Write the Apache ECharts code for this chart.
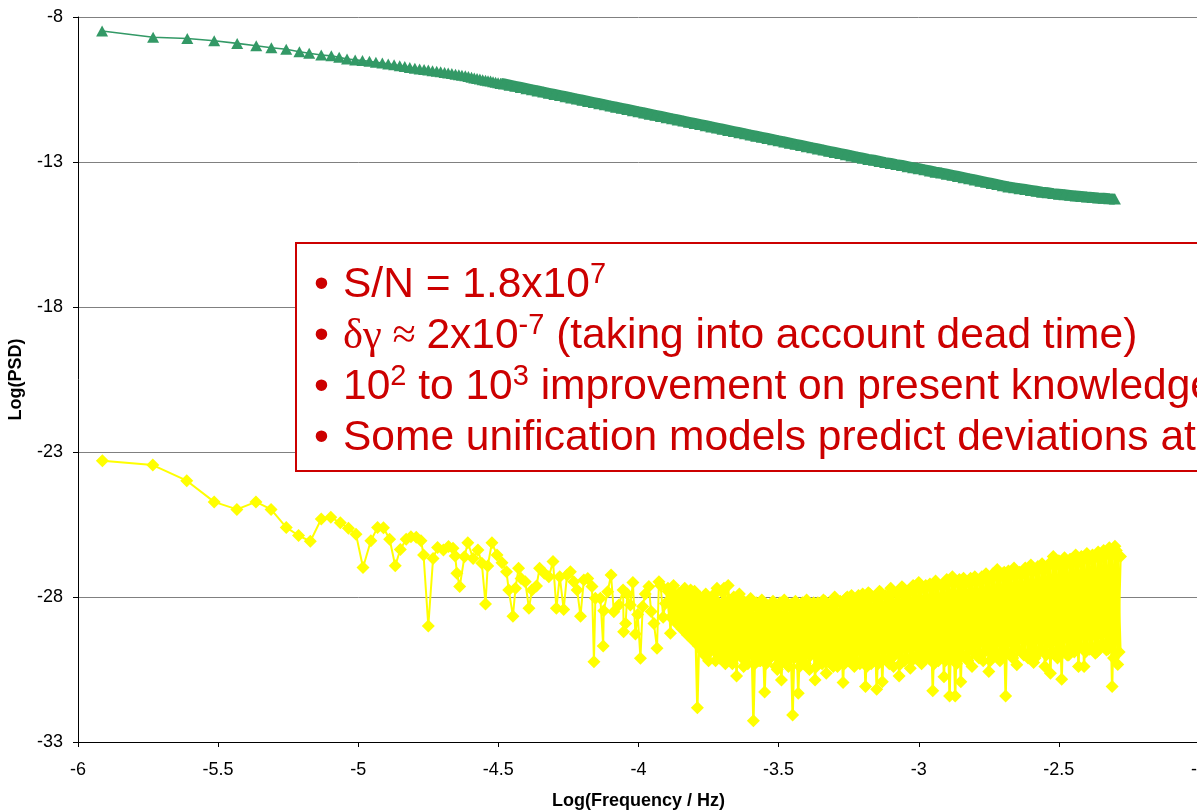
<!DOCTYPE html>
<html>
<head>
<meta charset="utf-8">
<script src="https://cdn.jsdelivr.net/npm/echarts@6/dist/echarts.min.js"></script>
<style>
  html, body { margin: 0; padding: 0; overflow: hidden; background: #fff; }
  #chart { width: 1200px; height: 812px; }
</style>
</head>
<body>
<div id="chart"></div>
<script>
// axis ranges
const xRange = [-6, -2, 0.5];
const yRange = [-33, -8, 5];

// green curve (log PSD of signal), [log f, log psd]; low frequencies, separate points
const greenSparse = [
  [-5.914,-8.48],[-5.732,-8.70],[-5.610,-8.74],[-5.514,-8.82],[-5.432,-8.91],[-5.364,-8.99],[-5.310,-9.06],
  [-5.257,-9.11],[-5.210,-9.20],[-5.175,-9.25],[-5.132,-9.31],[-5.096,-9.34],[-5.068,-9.39],[-5.040,-9.45],
  [-5.011,-9.48],[-4.985,-9.50],[-4.960,-9.53],[-4.937,-9.56],[-4.914,-9.59],[-4.893,-9.62],[-4.872,-9.65],
  [-4.852,-9.68],[-4.834,-9.71],[-4.816,-9.74],[-4.798,-9.77],[-4.781,-9.79],[-4.765,-9.81],[-4.750,-9.83],
  [-4.735,-9.85],[-4.720,-9.87],[-4.706,-9.89],[-4.692,-9.91],[-4.679,-9.93],[-4.666,-9.95],[-4.653,-9.97],
  [-4.641,-9.99],[-4.630,-10.01],[-4.618,-10.03],[-4.607,-10.05],[-4.596,-10.08],[-4.586,-10.10],
  [-4.576,-10.12],[-4.566,-10.14],[-4.556,-10.16],[-4.546,-10.18],[-4.537,-10.20],[-4.528,-10.21],
  [-4.519,-10.23],[-4.510,-10.25],[-4.501,-10.27],[-4.492,-10.29]
];

// green curve, higher frequencies where the points merge into a band
const greenDense = [
  [-4.48,-10.31],
  [-4.46,-10.35],[-4.44,-10.39],[-4.42,-10.43],[-4.40,-10.47],[-4.38,-10.51],[-4.36,-10.55],[-4.34,-10.59],
  [-4.32,-10.63],[-4.30,-10.67],[-4.28,-10.71],[-4.26,-10.75],[-4.24,-10.79],[-4.22,-10.83],[-4.20,-10.87],
  [-4.18,-10.91],[-4.16,-10.95],[-4.14,-10.99],[-4.12,-11.03],[-4.10,-11.07],[-4.08,-11.11],[-4.06,-11.15],
  [-4.04,-11.19],[-4.02,-11.23],[-4.00,-11.27],[-3.98,-11.31],[-3.96,-11.35],[-3.94,-11.39],[-3.92,-11.43],
  [-3.90,-11.47],[-3.88,-11.51],[-3.86,-11.55],[-3.84,-11.59],[-3.82,-11.63],[-3.80,-11.67],[-3.78,-11.71],
  [-3.76,-11.75],[-3.74,-11.79],[-3.72,-11.83],[-3.70,-11.87],[-3.68,-11.91],[-3.66,-11.95],[-3.64,-11.99],
  [-3.62,-12.03],[-3.60,-12.07],[-3.58,-12.11],[-3.56,-12.15],[-3.54,-12.19],[-3.52,-12.23],[-3.50,-12.27],
  [-3.48,-12.31],[-3.46,-12.35],[-3.44,-12.39],[-3.42,-12.43],[-3.40,-12.47],[-3.38,-12.51],[-3.36,-12.55],
  [-3.34,-12.59],[-3.32,-12.63],[-3.30,-12.67],[-3.28,-12.71],[-3.26,-12.75],[-3.24,-12.79],[-3.22,-12.83],
  [-3.20,-12.87],[-3.18,-12.91],[-3.16,-12.94],[-3.14,-12.98],[-3.12,-13.02],[-3.10,-13.05],[-3.08,-13.09],
  [-3.06,-13.12],[-3.04,-13.16],[-3.02,-13.20],[-3.00,-13.23],[-2.98,-13.27],[-2.96,-13.31],[-2.94,-13.35],
  [-2.92,-13.38],[-2.90,-13.42],[-2.88,-13.46],[-2.86,-13.50],[-2.84,-13.54],[-2.82,-13.58],[-2.80,-13.62],
  [-2.78,-13.66],[-2.76,-13.70],[-2.74,-13.74],[-2.72,-13.78],[-2.70,-13.82],[-2.68,-13.86],[-2.66,-13.89],
  [-2.64,-13.92],[-2.62,-13.95],[-2.60,-13.98],[-2.58,-14.01],[-2.56,-14.04],[-2.54,-14.06],[-2.52,-14.09],
  [-2.50,-14.11],[-2.48,-14.13],[-2.46,-14.15],[-2.44,-14.17],[-2.42,-14.19],[-2.40,-14.21],[-2.38,-14.22],
  [-2.36,-14.24],[-2.34,-14.25],[-2.32,-14.27],[-2.30,-14.28]
];

// yellow curve (noise), low frequency part, individual points
const yellowSparse = [
  [-5.913,-23.30],[-5.733,-23.45],[-5.612,-23.99],[-5.514,-24.72],[-5.433,-24.98],[-5.365,-24.72],
  [-5.311,-24.98],[-5.257,-25.60],[-5.213,-25.88],[-5.171,-26.08],[-5.132,-25.31],[-5.098,-25.25],
  [-5.064,-25.44],[-5.035,-25.63],[-5.008,-25.84],[-4.983,-26.98],[-4.955,-26.06],[-4.931,-25.60],
  [-4.910,-25.61],[-4.888,-26.01],[-4.868,-26.92],[-4.850,-26.36],[-4.829,-26.01],[-4.812,-25.92],
  [-4.793,-25.94],[-4.776,-26.06],[-4.767,-26.55],[-4.750,-29.00],[-4.733,-26.67],[-4.717,-26.29],
  [-4.696,-26.38],[-4.678,-26.26],[-4.662,-26.32],[-4.654,-26.59],[-4.648,-27.18],[-4.638,-27.64],
  [-4.621,-26.61],[-4.609,-26.13],[-4.590,-26.67],[-4.573,-26.38],[-4.559,-26.84],[-4.546,-28.24],
  [-4.538,-26.93],[-4.523,-26.13],[-4.505,-26.55],[-4.487,-26.82],[-4.471,-27.13],[-4.463,-27.76],
  [-4.448,-28.66],[-4.439,-27.70],[-4.428,-27.01],[-4.419,-27.36],[-4.404,-27.47],[-4.391,-28.39],
  [-4.380,-27.76],[-4.364,-27.62],[-4.353,-27.01],[-4.336,-27.18],[-4.320,-27.30],[-4.305,-26.78],
  [-4.293,-28.39],[-4.281,-27.30],[-4.267,-28.43],[-4.255,-27.24],[-4.243,-27.13],[-4.231,-27.47],
  [-4.219,-27.76],[-4.207,-28.66],[-4.195,-27.41],[-4.181,-27.36],[-4.166,-27.64],[-4.159,-30.23],
  [-4.154,-28.04],[-4.136,-28.04],[-4.126,-29.69],[-4.124,-28.47],[-4.110,-27.82],[-4.098,-27.24],
  [-4.088,-28.51],[-4.070,-28.28],[-4.055,-27.76],[-4.053,-29.20],[-4.046,-28.91],[-4.040,-27.90],
  [-4.029,-28.28],[-4.020,-27.50],[-4.011,-29.28],[-4.003,-28.60],[-3.993,-30.11],[-3.985,-28.33],
  [-3.976,-27.90],[-3.963,-27.64],[-3.955,-28.50],[-3.945,-28.91],[-3.934,-29.77],[-3.927,-27.47],
  [-3.921,-27.60],[-3.912,-28.70],[-3.904,-28.22],[-3.895,-27.70],[-3.886,-29.25],[-3.878,-27.90],
  [-3.870,-28.40],[-3.863,-28.90],[-3.856,-27.87],[-3.847,-28.10],[-3.838,-28.73],[-3.831,-27.90],
  [-3.825,-29.30],[-3.819,-28.50],[-3.814,-27.76],[-3.805,-29.08]
];

// yellow curve, high frequency part where the points crowd into a band (with the deep dips)
const yellowDense = [
  [-3.80,-27.80],[-3.79,-31.82],[-3.78,-28.00],[-3.77,-29.90],[-3.76,-27.90],[-3.75,-30.20],[-3.74,-28.10],[-3.73,-29.80],[-3.72,-27.70],[-3.71,-30.10],
  [-3.70,-27.85],[-3.69,-30.30],[-3.68,-27.60],[-3.67,-30.00],[-3.66,-28.00],[-3.65,-30.72],[-3.64,-27.90],[-3.63,-30.10],[-3.62,-28.20],[-3.61,-30.30],
  [-3.60,-28.05],[-3.59,-32.27],[-3.58,-28.20],[-3.57,-30.20],[-3.56,-28.10],[-3.55,-31.28],[-3.54,-28.30],[-3.53,-30.10],[-3.52,-28.15],[-3.51,-30.40],
  [-3.50,-28.25],[-3.49,-30.86],[-3.48,-28.10],[-3.47,-30.20],[-3.46,-28.30],[-3.45,-32.07],[-3.44,-28.15],[-3.43,-31.32],[-3.42,-28.25],[-3.41,-30.30],
  [-3.40,-28.10],[-3.39,-30.50],[-3.38,-28.30],[-3.37,-30.86],[-3.36,-28.20],[-3.35,-30.20],[-3.34,-28.10],[-3.33,-30.63],[-3.32,-28.25],[-3.31,-30.30],
  [-3.30,-28.00],[-3.29,-30.40],[-3.28,-28.15],[-3.27,-30.95],[-3.26,-28.05],[-3.25,-30.20],[-3.24,-27.95],[-3.23,-30.40],[-3.22,-28.10],[-3.21,-30.30],
  [-3.20,-27.90],[-3.19,-31.09],[-3.18,-27.85],[-3.17,-30.30],[-3.16,-28.00],[-3.15,-31.18],[-3.14,-27.80],[-3.13,-30.92],[-3.12,-27.95],[-3.11,-30.20],
  [-3.10,-27.70],[-3.09,-30.40],[-3.08,-27.85],[-3.07,-30.72],[-3.06,-27.65],[-3.05,-30.20],[-3.04,-27.80],[-3.03,-30.46],[-3.02,-27.60],[-3.01,-30.10],
  [-3.00,-27.50],[-2.99,-30.30],[-2.98,-27.70],[-2.97,-30.00],[-2.96,-27.55],[-2.95,-31.23],[-2.94,-27.45],[-2.93,-30.20],[-2.92,-27.60],[-2.91,-30.75],
  [-2.90,-27.40],[-2.89,-31.41],[-2.88,-27.30],[-2.87,-31.41],[-2.86,-27.50],[-2.85,-30.92],[-2.84,-27.35],[-2.83,-30.10],[-2.82,-27.45],[-2.81,-30.40],
  [-2.80,-27.30],[-2.79,-30.00],[-2.78,-27.40],[-2.77,-30.20],[-2.76,-27.20],[-2.75,-30.57],[-2.74,-27.30],[-2.73,-30.00],[-2.72,-27.05],[-2.71,-30.20],
  [-2.70,-27.20],[-2.69,-31.41],[-2.68,-27.10],[-2.67,-30.00],[-2.66,-27.00],[-2.65,-30.34],[-2.64,-27.15],[-2.63,-29.90],[-2.62,-27.00],[-2.61,-30.10],
  [-2.60,-26.90],[-2.59,-30.26],[-2.58,-27.05],[-2.57,-29.90],[-2.56,-26.85],[-2.55,-30.40],[-2.54,-26.95],[-2.53,-30.63],[-2.52,-26.60],[-2.51,-29.90],
  [-2.50,-26.75],[-2.49,-30.84],[-2.48,-26.65],[-2.47,-30.00],[-2.46,-26.70],[-2.45,-29.80],[-2.44,-26.55],[-2.43,-30.40],[-2.42,-26.60],[-2.41,-30.40],
  [-2.40,-26.50],[-2.39,-29.80],[-2.38,-26.55],[-2.37,-29.94],[-2.36,-26.45],[-2.35,-29.70],[-2.34,-26.40],[-2.33,-29.83],[-2.32,-26.30],[-2.31,-31.09],
  [-2.30,-26.25],[-2.29,-30.33],[-2.28,-26.60]
];

// the interleaved points of the same band (half a step further), all inside the band
const yellowDenseB = [
  [-3.895,-27.80],[-3.885,-28.70],[-3.875,-27.60],[-3.865,-28.90],[-3.855,-27.90],[-3.845,-29.10],[-3.835,-27.70],[-3.825,-29.30],
  [-3.815,-28.00],[-3.805,-29.50],
  [-3.795,-28.20],[-3.785,-29.70],[-3.775,-28.10],[-3.765,-30.00],[-3.755,-28.30],[-3.745,-29.90],[-3.735,-27.95],[-3.725,-30.20],
  [-3.715,-28.20],[-3.705,-29.90],[-3.695,-27.70],[-3.685,-30.10],[-3.675,-28.10],[-3.665,-30.30],[-3.655,-28.25],[-3.645,-29.95],
  [-3.635,-28.05],[-3.625,-30.40],[-3.615,-28.35],[-3.605,-30.00],[-3.595,-28.25],[-3.585,-30.30],[-3.575,-28.40],[-3.565,-30.20],
  [-3.555,-28.20],[-3.545,-30.30],[-3.535,-28.40],[-3.525,-30.00],[-3.515,-28.30],[-3.505,-30.50],[-3.495,-28.20],[-3.485,-30.20],
  [-3.475,-28.35],[-3.465,-30.40],[-3.455,-28.25],[-3.445,-30.10],[-3.435,-28.40],[-3.425,-30.40],[-3.415,-28.20],[-3.405,-30.30],
  [-3.395,-28.35],[-3.385,-30.00],[-3.375,-28.20],[-3.365,-30.40],[-3.355,-28.35],[-3.345,-30.30],[-3.335,-28.15],[-3.325,-30.10],
  [-3.315,-28.30],[-3.305,-30.40],[-3.295,-28.10],[-3.285,-30.20],[-3.275,-28.25],[-3.265,-30.30],[-3.255,-28.00],[-3.245,-30.10],
  [-3.235,-28.20],[-3.225,-30.30],[-3.215,-27.95],[-3.205,-30.20],[-3.195,-28.10],[-3.185,-30.40],[-3.175,-27.90],[-3.165,-30.10],
  [-3.155,-28.05],[-3.145,-30.30],[-3.135,-27.85],[-3.125,-30.10],[-3.115,-28.00],[-3.105,-30.30],[-3.095,-27.80],[-3.085,-30.00],
  [-3.075,-27.90],[-3.065,-30.30],[-3.055,-27.70],[-3.045,-30.10],[-3.035,-27.85],[-3.025,-30.20],[-3.015,-27.65],[-3.005,-30.00],
  [-2.995,-27.75],[-2.985,-30.20],[-2.975,-27.60],[-2.965,-30.10],[-2.955,-27.70],[-2.945,-30.30],[-2.935,-27.55],[-2.925,-30.00],
  [-2.915,-27.65],[-2.905,-30.20],[-2.895,-27.45],[-2.885,-30.10],[-2.875,-27.55],[-2.865,-30.30],[-2.855,-27.40],[-2.845,-30.00],
  [-2.835,-27.55],[-2.825,-30.20],[-2.815,-27.35],[-2.805,-29.90],[-2.795,-27.50],[-2.785,-30.10],[-2.775,-27.30],[-2.765,-29.90],
  [-2.755,-27.45],[-2.745,-30.20],[-2.735,-27.20],[-2.725,-29.90],[-2.715,-27.35],[-2.705,-30.10],[-2.695,-27.15],[-2.685,-29.90],
  [-2.675,-27.30],[-2.665,-30.10],[-2.655,-27.10],[-2.645,-29.80],[-2.635,-27.25],[-2.625,-30.00],[-2.615,-27.05],[-2.605,-29.90],
  [-2.595,-27.15],[-2.585,-30.10],[-2.575,-26.95],[-2.565,-29.80],[-2.555,-27.10],[-2.545,-30.00],[-2.535,-26.85],[-2.525,-29.90],
  [-2.515,-26.95],[-2.505,-30.10],[-2.495,-26.80],[-2.485,-29.80],[-2.475,-26.90],[-2.465,-30.00],[-2.455,-26.70],[-2.445,-29.90],
  [-2.435,-26.85],[-2.425,-29.70],[-2.415,-26.65],[-2.405,-29.90],[-2.395,-26.75],[-2.385,-29.70],[-2.375,-26.60],[-2.365,-29.90],
  [-2.355,-26.70],[-2.345,-29.60],[-2.335,-26.50],[-2.325,-29.80],[-2.315,-26.60],[-2.305,-30.10],[-2.295,-26.40],[-2.285,-29.90]
];

// note box lines (rich text tokens)
const noteLines = [
  '{b|•}{n|S/N = 1.8x10}{s|7}',
  '{b|•}{g|δγ ≈ }{n|2x10}{s|-7}{n| (taking into account dead time)}',
  '{b|•}{n|10}{s|2}{n| to 10}{s|3}{n| improvement on present knowledge}',
  '{b|•}{n|Some unification models predict deviations at}'
];

const red = '#CC0000';
const green = '#339966';
const yellow = '#FFFF00';
const font = 'Liberation Sans, Arial, sans-serif';

const chart = echarts.init(document.getElementById('chart'));

const axisText = { color: '#000', fontFamily: font, fontSize: 18 };
const nameText = { color: '#000', fontFamily: font, fontSize: 18, fontWeight: 'bold' };

const last = arr => arr[arr.length - 1];

// one line series, same look for every part of a curve
const lineSeries = (data, symbol, size, color, width) => ({
  type: 'line',
  data: data,
  symbol: symbol,
  symbolSize: size,
  itemStyle: { color: color },
  lineStyle: { color: color, width: width },
  silent: true
});

const option = {
  animation: false,
  grid: { left: 78, right: 1, top: 17, bottom: 70, outerBoundsMode: 'none', containLabel: false },
  xAxis: {
    type: 'value',
    min: xRange[0], max: xRange[1], interval: xRange[2],
    name: 'Log(Frequency / Hz)',
    nameLocation: 'middle',
    nameGap: 50,
    nameTextStyle: nameText,
    axisLine: { show: true, onZero: false, lineStyle: { color: '#000', width: 1 } },
    axisTick: { show: true, length: 5, lineStyle: { color: '#000' } },
    axisLabel: Object.assign({ margin: 19 }, axisText),
    splitLine: { show: false }
  },
  yAxis: {
    type: 'value',
    min: yRange[0], max: yRange[1], interval: yRange[2],
    name: 'Log(PSD)',
    nameLocation: 'middle',
    nameRotate: 90,
    nameGap: 53,
    nameTextStyle: nameText,
    axisLine: { show: true, onZero: false, lineStyle: { color: '#000', width: 1 } },
    axisTick: { show: true, length: 5, lineStyle: { color: '#000' } },
    axisLabel: Object.assign({ margin: 15 }, axisText),
    splitLine: { show: true, lineStyle: { color: '#808080', width: 1 } }
  },
  series: [
    lineSeries(greenSparse, 'triangle', [12, 11], green, 1.6),
    lineSeries([last(greenSparse)].concat(greenDense), 'triangle', [12, 11], green, 11),
    lineSeries(yellowSparse, 'diamond', 13, yellow, 2),
    lineSeries(yellowDenseB, 'diamond', 13, yellow, 5),
    lineSeries([last(yellowSparse)].concat(yellowDense), 'diamond', 13, yellow, 2.4)
  ],
  graphic: [
    {
      type: 'rect',
      z: 100,
      shape: { x: 296, y: 243, width: 1000, height: 228 },
      style: { fill: '#fff', stroke: red, lineWidth: 2 }
    },
    {
      type: 'text',
      z: 101,
      x: 314,
      y: 260,
      style: {
        text: noteLines.join('\n'),
        fill: red,
        align: 'left',
        verticalAlign: 'top',
        rich: {
          b: { fill: red, fontFamily: font, fontSize: 42.5, lineHeight: 51, width: 29 },
          n: { fill: red, fontFamily: font, fontSize: 42.5, lineHeight: 51 },
          g: { fill: red, fontFamily: 'Liberation Serif, Times New Roman, serif', fontSize: 42.5, lineHeight: 51 },
          s: { fill: red, fontFamily: font, fontSize: 29, lineHeight: 38, verticalAlign: 'top' }
        }
      }
    }
  ]
};

chart.setOption(option);
</script>
</body>
</html>
